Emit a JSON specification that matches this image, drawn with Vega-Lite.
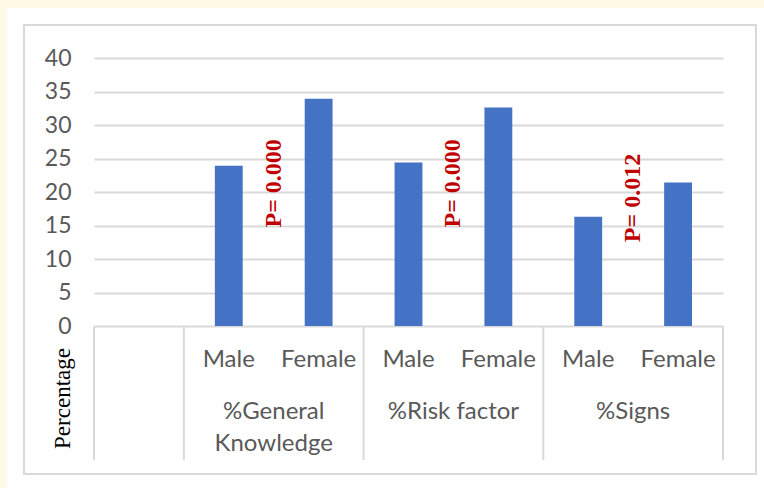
{
  "$schema": "https://vega.github.io/schema/vega-lite/v6.json",
  "autosize": {"type": "none"},
  "width": 629,
  "height": 268,
  "padding": {"left": 94, "top": 58, "right": 41, "bottom": 162},
  "background": "white",
  "config": {
    "view": {"stroke": null},
    "axisY": {
      "tickCount": 10,
      "labelOverlap": false,
      "domain": false,
      "ticks": false,
      "tickSize": 0,
      "grid": true,
      "gridColor": "#d9d9d9",
      "gridWidth": 2,
      "labelFont": "Lato",
      "labelFontSize": 23,
      "labelColor": "#595959",
      "labelPadding": 23,
      "titleFont": "Liberation Serif",
      "titleFontSize": 23,
      "titleFontWeight": "normal",
      "titleColor": "#000000",
      "titleAngle": 270,
      "titleAlign": "center",
      "titleBaseline": "middle",
      "titleX": -32,
      "titleY": 340
    }
  },
  "datasets": {
    "bars": [
      {"group": "%General Knowledge", "sex": "Male", "key": "GK|Male", "value": 23.9, "groupLabel": ["%General", "Knowledge"]},
      {"group": "%General Knowledge", "sex": "Female", "key": "GK|Female", "value": 33.9, "groupLabel": ["%General", "Knowledge"]},
      {"group": "%Risk factor", "sex": "Male", "key": "RF|Male", "value": 24.4, "groupLabel": ["%Risk factor"]},
      {"group": "%Risk factor", "sex": "Female", "key": "RF|Female", "value": 32.6, "groupLabel": ["%Risk factor"]},
      {"group": "%Signs", "sex": "Male", "key": "S|Male", "value": 16.3, "groupLabel": ["%Signs"]},
      {"group": "%Signs", "sex": "Female", "key": "S|Female", "value": 21.4, "groupLabel": ["%Signs"]}
    ],
    "pvals": [
      {"key": "GK|Male", "p": "P= 0.000", "at": 21.3},
      {"key": "RF|Male", "p": "P= 0.000", "at": 21.3},
      {"key": "S|Male", "p": "P= 0.012", "at": 19.1}
    ],
    "bounds": [
      {"key": "blank"},
      {"key": "GK|Male"},
      {"key": "RF|Male"},
      {"key": "S|Male"}
    ]
  },
  "encoding": {
    "x": {
      "field": "key",
      "type": "nominal",
      "axis": null,
      "scale": {
        "domain": ["blank", "GK|Male", "GK|Female", "RF|Male", "RF|Female", "S|Male", "S|Female"],
        "paddingInner": 0,
        "paddingOuter": 0
      }
    }
  },
  "layer": [
    {
      "data": {"name": "bars"},
      "mark": {"type": "bar", "color": "#4472C4", "width": {"band": 0.31}},
      "encoding": {
        "y": {
          "field": "value",
          "type": "quantitative",
          "scale": {"domain": [0, 40], "nice": false, "zero": false},
          "axis": {"title": "Percentage", "tickCount": 10, "values": [0, 5, 10, 15, 20, 25, 30, 35, 40]}
        }
      }
    },
    {
      "data": {"values": [{}]},
      "mark": {"type": "rect", "fill": "#FFF9E6", "xOffset": -94, "x2Offset": -87, "yOffset": 162, "y2Offset": -58},
      "encoding": {
        "x": {"datum": "blank", "type": "nominal", "bandPosition": 0},
        "x2": {"datum": "blank", "bandPosition": 0},
        "y": {"datum": 0, "type": "quantitative"},
        "y2": {"datum": 40}
      }
    },
    {
      "data": {"values": [{}]},
      "mark": {"type": "rect", "fill": "#FFF9E6", "xOffset": -94, "x2Offset": 41, "yOffset": -50, "y2Offset": -58},
      "encoding": {
        "x": {"datum": "blank", "type": "nominal", "bandPosition": 0},
        "x2": {"datum": "S|Female", "bandPosition": 1},
        "y": {"datum": 40, "type": "quantitative"},
        "y2": {"datum": 40}
      }
    },
    {
      "data": {"values": [{}]},
      "mark": {"type": "rect", "fill": null, "stroke": "#d9d9d9", "strokeWidth": 2, "xOffset": -70, "x2Offset": 33, "yOffset": 148, "y2Offset": -33},
      "encoding": {
        "x": {"datum": "blank", "type": "nominal", "bandPosition": 0},
        "x2": {"datum": "S|Female", "bandPosition": 1},
        "y": {"datum": 0, "type": "quantitative"},
        "y2": {"datum": 40}
      }
    },
    {
      "data": {"name": "bounds"},
      "mark": {"type": "rule", "color": "#d9d9d9", "strokeWidth": 2},
      "encoding": {
        "x": {"field": "key", "type": "nominal", "bandPosition": 0},
        "y": {"datum": 0, "type": "quantitative"},
        "y2": {"datum": -20}
      }
    },
    {
      "data": {"values": [{}]},
      "mark": {"type": "rule", "color": "#d9d9d9", "strokeWidth": 2},
      "encoding": {
        "x": {"datum": "S|Female", "type": "nominal", "bandPosition": 1},
        "y": {"datum": 0, "type": "quantitative"},
        "y2": {"datum": -20}
      }
    },
    {
      "data": {"name": "bars"},
      "mark": {"type": "text", "font": "Lato", "fontSize": 24, "color": "#595959", "align": "center", "baseline": "middle"},
      "encoding": {
        "y": {"datum": -5, "type": "quantitative"},
        "text": {"field": "sex", "type": "nominal"}
      }
    },
    {
      "data": {"name": "bars"},
      "transform": [{"filter": "datum.sex == 'Male'"}],
      "mark": {"type": "text", "font": "Lato", "fontSize": 24, "color": "#595959", "align": "center", "baseline": "top", "lineHeight": 32},
      "encoding": {
        "x": {"field": "key", "type": "nominal", "bandPosition": 1},
        "y": {"datum": -11.0, "type": "quantitative"},
        "text": {"field": "groupLabel", "type": "nominal"}
      }
    },
    {
      "data": {"name": "pvals"},
      "mark": {"type": "text", "font": "Liberation Serif", "fontWeight": "bold", "fontSize": 24, "color": "#C00000", "angle": 270, "align": "center", "baseline": "middle"},
      "encoding": {
        "x": {"field": "key", "type": "nominal", "bandPosition": 1},
        "y": {"field": "at", "type": "quantitative"},
        "text": {"field": "p", "type": "nominal"}
      }
    }
  ]
}
